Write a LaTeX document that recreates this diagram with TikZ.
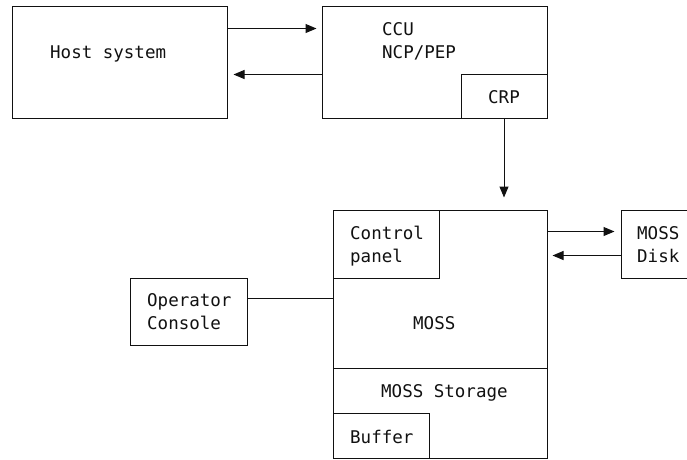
\documentclass[tikz,border=0pt]{standalone}
\usepackage{fontspec}
\setmonofont{DejaVu Sans Mono}
\usetikzlibrary{arrows.meta}
\definecolor{ink}{HTML}{111111}

\begin{document}
\begin{tikzpicture}[x=1pt,y=-1pt,font=\ttfamily\fontsize{17.5}{23}\selectfont,
 box/.style={draw=ink,line width=1pt,inner sep=0pt,fill=white},
 lbl/.style={anchor=base west,inner sep=0pt,align=left,text=ink},
 flow/.style={-{Triangle[length=11pt,width=9pt]},line width=1pt,draw=ink},
 link/.style={line width=1pt,draw=ink}]
\path[use as bounding box] (0,0) rectangle (687,459);
\clip (0,0) rectangle (687,459);
% Upper row: host and communication controller
\node[box,minimum width=215pt,minimum height=112pt] (host) at (119.5,62) {};
\node[lbl] (hostname) at (50,58) {Host system};
\node[box,minimum width=225pt,minimum height=112pt] (ccu) at (434.5,62) {};
\node[lbl] (ccuname) at (382,58) {CCU\\NCP/PEP};
\node[box,minimum width=86pt,minimum height=44pt] (crp) at (504,96) {};
\node[lbl] (crpname) at (488,103) {CRP};
\draw[flow,shorten >=5pt] ([yshift=-23pt]host.north east)--([yshift=-23pt]ccu.north west);
\draw[flow,shorten >=6pt] ([yshift=-69pt]ccu.north west)--([yshift=-69pt]host.north east);

% Maintenance subsystem, with its panel, storage and buffer
\node[box,minimum width=214pt,minimum height=248pt] (moss) at (440,334) {};
\node[box,minimum width=106pt,minimum height=68pt] (panel) at (386,244) {};
\node[lbl] (panelname) at (350,262) {Control\\panel};
\node[lbl] (mossname) at (413,329) {MOSS};
\node[box,minimum width=214pt,minimum height=90pt] (storage) at (440,413) {};
\node[lbl] (storagename) at (381,397) {MOSS Storage};
\node[box,minimum width=96pt,minimum height=45pt] (buffer) at (381,435.5) {};
\node[lbl] (buffername) at (350,443) {Buffer};
\draw[flow,shorten >=12pt] (crp.south)--(crp.south |- moss.north);

\node[box,minimum width=79pt,minimum height=68pt] (disk) at (660.5,244) {};
\node[lbl] (diskname) at (637,262) {MOSS\\Disk};
\draw[flow,shorten >=6pt] ([yshift=-22pt]moss.north east)--([yshift=-22pt]disk.north west);
\draw[flow,shorten >=5pt] ([yshift=-46pt]disk.north west)--([yshift=-46pt]moss.north east);

\node[box,minimum width=117pt,minimum height=67pt] (console) at (188.5,311.5) {};
\node[lbl] (consolename) at (147,329) {Operator\\Console};
\draw[link] ([yshift=-21pt]console.north east)--([yshift=-21pt]console.north east -| moss.west);
\end{tikzpicture}
\end{document}
